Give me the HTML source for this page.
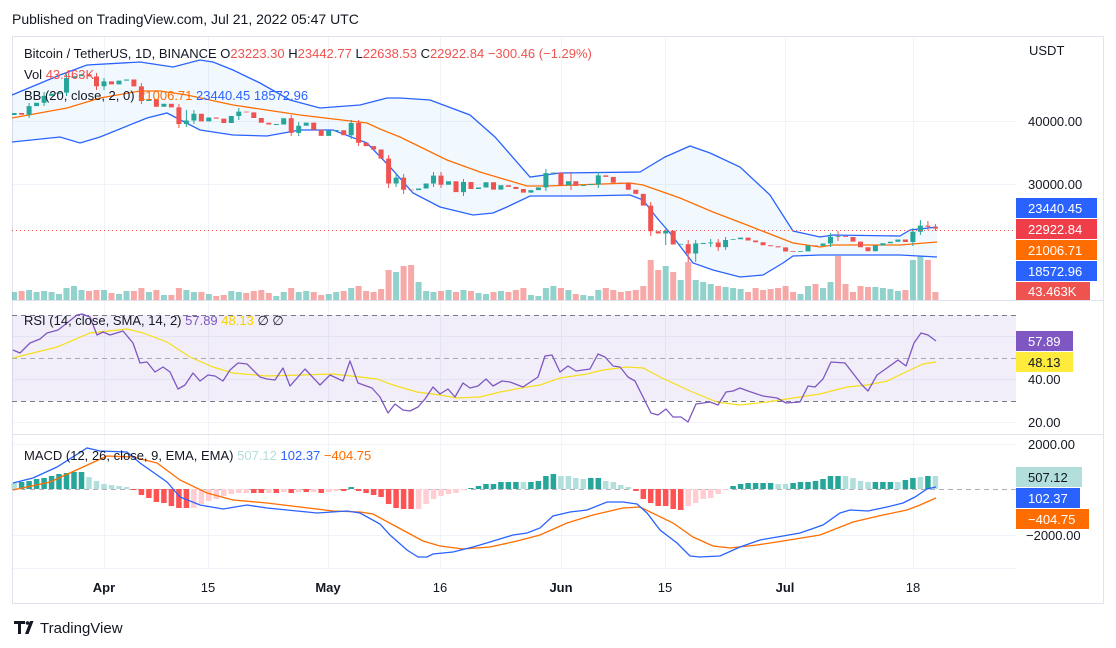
<!DOCTYPE html>
<html><head><meta charset="utf-8"><style>
html,body{margin:0;padding:0;background:#fff;}
svg{display:block;font-family:"Liberation Sans",sans-serif;}
</style></head><body>
<svg width="1116" height="648" viewBox="0 0 1116 648" xmlns="http://www.w3.org/2000/svg">
<rect width="1116" height="648" fill="#fff"/>
<text x="12" y="24" font-size="14" fill="#131722">Published on TradingView.com, Jul 21, 2022 05:47 UTC</text>
<g stroke="#f0f3fa" stroke-width="1">
<path d="M104.5 37V568M208.5 37V568M328.5 37V568M440.5 37V568M561.5 37V568M665.5 37V568M785.5 37V568M913.5 37V568"/>
<path d="M12 121.5H1016M12 184.5H1016M12 336.5H1016M12 379.5H1016M12 422.5H1016M12 444.5H1016M12 535.5H1016M12 568.5H1016"/>
</g>
<rect x="12.5" y="36.5" width="1091" height="567" fill="none" stroke="#e0e3eb"/>
<line x1="12" y1="300.5" x2="1104" y2="300.5" stroke="#e0e3eb"/>
<line x1="12" y1="434.5" x2="1104" y2="434.5" stroke="#e0e3eb"/>
<defs>
<clipPath id="cm"><rect x="12" y="37" width="1004" height="263"/></clipPath>
</defs>
<rect x="12" y="315" width="1004" height="86" fill="#7e57c2" fill-opacity="0.1"/>
<g stroke="#787b86" stroke-dasharray="5,4" stroke-width="1">
<line x1="12" y1="315.5" x2="1016" y2="315.5"/><line x1="12" y1="358.5" x2="1016" y2="358.5" stroke-opacity="0.6"/><line x1="12" y1="401.5" x2="1016" y2="401.5"/>
<line x1="12" y1="489.5" x2="1016" y2="489.5" stroke-opacity="0.6"/>
</g>
<g clip-path="url(#cm)">
<!-- BB fill -->
<path fill="#2196f3" fill-opacity="0.06" d="M12 95L60 75L87 65L140 62L173 67L200 60L213 62L233 70L260 83L290 100L320 108L360 105L387 98L400 98L430 100L470 115L495 137L530 177L560 173L640 172L645 169L665 157L690 146L710 153L740 167L770 195L793 231L820 237L833 235L900 236L910 230L937 227L937 257L900 255L820 255L793 256L783 263L763 275L740 277L713 270L693 263L670 233L657 218L643 200L630 195L580 196L530 196L507 207L493 213L473 215L440 207L413 193L390 167L367 143L333 130L300 130L267 136L233 135L200 130L167 113L147 118L100 137L80 143L60 137L12 142Z"/>
<!-- volume -->
<path stroke="#26a69a" stroke-opacity="0.5" stroke-width="6" fill="none" d="M14.1 300V292M29.1 300V290M36.6 300V292M44.1 300V291M51.6 300V292M59 300V294M66.5 300V288M74 300V286M81.5 300V290M104 300V290M119 300V294M126.5 300V291M148.9 300V292M163.9 300V295M186.4 300V290M193.9 300V292M208.8 300V294M231.3 300V291M238.8 300V292M276.3 300V296M283.7 300V292M298.7 300V292M306.2 300V291M328.7 300V294M336.2 300V292M351.2 300V288M396.1 300V272M418.6 300V282M426.1 300V291M433.5 300V292M448.5 300V290M463.5 300V290M478.5 300V293M486 300V294M500.9 300V291M530.9 300V295M538.4 300V296M545.9 300V288M553.4 300V286M568.4 300V290M583.3 300V295M590.8 300V296M598.3 300V290M665.7 300V266M680.7 300V280M695.7 300V280M703.2 300V282M710.7 300V284M725.6 300V287M733.1 300V288M740.6 300V289M800.5 300V294M808 300V286M823 300V288M830.5 300V282M875.4 300V287M882.9 300V288M890.4 300V289M897.9 300V291M912.9 300V260M920.4 300V256"/>
<path stroke="#ef5350" stroke-opacity="0.5" stroke-width="6" fill="none" d="M21.6 300V291M89 300V291M96.5 300V290M111.5 300V293M133.9 300V291M141.4 300V288M156.4 300V290M171.4 300V295M178.9 300V288M201.4 300V292M216.3 300V296M223.8 300V295M246.3 300V293M253.8 300V291M261.3 300V290M268.8 300V293M291.2 300V288M313.7 300V292M321.2 300V295M343.7 300V291M358.6 300V286M366.1 300V291M373.6 300V292M381.1 300V289M388.6 300V270M403.6 300V266M411.1 300V265M441 300V291M456 300V292M471 300V291M493.5 300V292M508.4 300V292M515.9 300V290M523.4 300V288M560.9 300V288M575.8 300V294M605.8 300V288M613.3 300V290M620.8 300V292M628.3 300V291M635.8 300V290M643.3 300V286M650.7 300V260M658.2 300V270M673.2 300V272M688.2 300V262M718.2 300V286M748.1 300V292M755.6 300V288M763.1 300V290M770.6 300V289M778.1 300V288M785.6 300V286M793.1 300V292M815.5 300V284M838 300V256M845.5 300V284M853 300V292M860.5 300V286M868 300V287M905.4 300V290M927.9 300V260M935.4 300V292"/>
<!-- BB lines -->
<path fill="none" stroke="#2962ff" stroke-width="1.3" d="M12 95L60 75L87 65L140 62L173 67L200 60L213 62L233 70L260 83L290 100L320 108L360 105L387 98L400 98L430 100L470 115L495 137L530 177L560 173L640 172L645 169L665 157L690 146L710 153L740 167L770 195L793 231L820 237L833 235L900 236L910 230L937 227"/>
<path fill="none" stroke="#2962ff" stroke-width="1.3" d="M12 142L60 137L80 143L100 137L147 118L167 113L200 130L233 135L267 136L300 130L333 130L367 143L390 167L413 193L440 207L473 215L493 213L507 207L530 196L580 196L630 195L643 200L657 218L670 233L693 263L713 270L740 277L763 275L783 263L793 256L820 255L900 255L937 257"/>
<path fill="none" stroke="#ff6d00" stroke-width="1.3" d="M12 118L67 108L100 98L140 91L160 91L187 95L233 105L300 115L367 123L380 129L400 137L447 160L480 172L527 186L547 186L630 183L643 185L680 198L713 212L747 225L793 243L820 247L833 245L900 245L937 242"/>
<!-- wicks -->
<path stroke="#26a69a" stroke-width="1" fill="none" d="M29.1 118V103M44.1 106V92M66.5 96V74M104 90V78M186.4 127V110M193.9 124V110M238.8 120V108M298.7 136V122M351.2 139V120M396.1 187V173M433.5 187V172M463.5 196V179M545.9 191V169M598.3 188V172M665.7 245V227M695.7 262V240M710.7 247V239M725.6 250V237M830.5 247V233M912.9 246V228M920.4 235V220"/>
<path stroke="#ef5350" stroke-width="1" fill="none" d="M96.5 73V90M141.4 83V104M178.9 104V128M291.2 115V136M358.6 120V146M388.6 155V188M403.6 174V194M441 172V188M571 172V190M650.7 202V236M688.2 240V262M718.2 239V251M838 231V241M927.9 221V230M935.4 224V231"/>
<!-- bodies -->
<path stroke="#26a69a" stroke-width="5" fill="none" d="M14.1 115V113M29.1 114.7V106.1M36.6 106.1V102.8M44.1 102.8V95.9M51.6 95.9V93.8M59 93.8V92.6M66.5 92.6V78M74 78V76.1M81.5 76.1V74.2M104 86.3V81.4M119 84.4V80.6M126.5 80.6V79.5M148.9 101V99.3M163.9 106.8V103.7M186.4 124V120.5M193.9 120.5V113.8M208.8 121.4V117.5M231.3 123V116M238.8 116V111.6M276.3 125V124M283.7 124.5V118.3M298.7 132.9V125.8M306.2 125.8V122.6M328.7 135.9V130.6M336.2 131V130M351.2 135.3V123M396.1 183.5V177.6M418.6 190.1V188.5M426.1 188.5V183.5M433.5 183.5V175.6M448.5 184.8V181.2M463.5 192.1V182M478.5 189V187.5M486 187.5V182.2M500.9 189.6V185.2M530.9 192.6V190.1M538.4 190.1V187.4M545.9 187.4V173.1M553.4 173.3V172.5M568.4 185.3V181.2M583.3 185.9V184.9M590.8 185V184M598.3 184.5V175.4M665.7 233.5V230.7M680.7 244.6V243.9M695.7 253.5V243.4M703.2 244V243M710.7 243.4V242.5M725.6 247.1V240M733.1 240V239.2M740.6 239.2V237.6M800.5 252V251.2M808 251.4V245.5M823 245.9V243.5M830.5 243.5V236.7M838 236.7V236M875.4 251.2V245.5M882.9 245.5V243.3M890.4 243.3V241.8M897.9 241.8V239.5M912.9 242V231.7M920.4 231.7V225.6"/>
<path stroke="#ef5350" stroke-width="5" fill="none" d="M21.6 113V114.7M89 74.2V76.5M96.5 76.5V86.3M111.5 81.4V84.4M133.9 79.5V86.4M141.4 86.4V101M156.4 99.3V106.8M171.4 103.7V107.4M178.9 107.4V124M201.4 113.8V121.4M216.3 117.5V118.6M223.8 118.6V123M246.3 111.6V112.4M253.8 112.4V118M261.3 118V122.8M268.8 122.8V124.5M291.2 118.3V132.9M313.7 122.6V129.8M321.2 129.8V135.9M343.7 130.3V135.3M358.6 123V142.7M366.1 142.7V146.1M373.6 146.1V149.5M381.1 149.5V158.6M388.6 158.6V183.5M403.6 177.6V189.7M411.1 189.6V190.2M441 175.6V184.8M456 181.2V192.1M471 182V189M493.5 182.2V189.6M508.4 185.2V186.9M515.9 186.9V189M523.4 189V192.6M560.9 172.7V185.3M575.8 181.2V185.9M605.8 175.4V176.9M613.3 176.9V182.7M620.8 182.7V183.3M628.3 183.3V189.7M635.8 189.7V193.9M643.3 193.9V205.6M650.7 205.6V231.3M658.2 231.3V233.5M673.2 230.7V244.5M688.2 244.1V253.5M718.2 242.5V247.1M748.1 237.6V240.5M755.6 240.5V242.3M763.1 242.3V245.2M770.6 245.2V246.2M778.1 246.2V247.4M785.6 247.4V251.5M793.1 251.3V252M815.5 245.4V246M845.5 236.1V237M853 237V241.6M860.5 241.6V247.2M868 247.2V251.2M905.4 239.5V242M927.9 225.6V226.7M935.4 226.7V228.6"/>
</g>
<line x1="12" y1="230.5" x2="1016" y2="230.5" stroke="#ef5350" stroke-dasharray="1,3"/>
<!-- RSI -->
<path fill="none" stroke="#f5de1a" stroke-width="1.2" d="M13 358L33 353L57 347L90 333L127 329L143 333L167 342L190 357L213 367L233 373L267 376L333 374L360 377L377 379L393 385L417 392L440 395L457 398L480 397L500 392L527 387L540 385L560 378L587 374L603 370L627 367L643 368L660 377L690 391L717 402L740 405L767 402L793 398L820 394L847 387L867 385L887 381L910 370L923 364L936 362"/>
<path fill="none" stroke="#7e57c2" stroke-width="1.3" stroke-linejoin="round" d="M13 350L20 353L30 343L40 339L47 333L58 330L67 323L77 315L82 314L90 317L97 335L103 332L110 335L123 331L133 343L140 363L147 362L155 372L163 367L170 372L178 389L185 385L193 373L200 381L208 375L215 376L223 381L230 370L238 363L247 364L260 377L267 379L275 380L283 368L290 386L305 369L320 385L330 375L343 381L350 361L358 383L372 388L380 397L388 413L395 404L403 410L410 411L418 407L425 399L433 387L440 394L448 389L455 397L463 383L470 388L478 386L486 379L493 386L502 381L510 382L523 387L538 377L545 356L552 355L560 372L568 366L576 371L590 369L598 354L605 357L613 366L620 367L628 377L635 381L643 397L651 413L658 415L666 409L673 417L681 417L688 422L696 404L703 403L710 402L718 405L726 392L733 391L740 388L748 391L763 396L777 398L786 403L800 402L808 386L815 387L823 379L831 362L845 363L862 385L868 391L877 375L887 368L898 360L906 366L914 343L921 333L928 335L936 341"/>
<!-- MACD histogram -->
<path stroke="#26a69a" stroke-width="5.5" fill="none" d="M21.6 489V482M29.1 489V481M36.6 489V479M44.1 489V478M51.6 489V476M59 489V474M66.5 489V473M74 489V472M81.5 489V472M351.2 489V487M471 489V488M478.5 489V486M486 489V484M493.5 489V484M500.9 489V482M508.4 489V482M515.9 489V482M530.9 489V482M538.4 489V481M545.9 489V476M553.4 489V474M590.8 489V478M598.3 489V478M733.1 489V486M740.6 489V484M748.1 489V483M755.6 489V483M763.1 489V483M770.6 489V483M793.1 489V483M800.5 489V482M808 489V482M815.5 489V481M823 489V479M830.5 489V476M838 489V476M875.4 489V482M882.9 489V482M890.4 489V482M905.4 489V480M912.9 489V478M927.9 489V476"/>
<path stroke="#b2dfdb" stroke-width="5.5" fill="none" d="M14.1 489V483M89 489V477M96.5 489V481M104 489V484M111.5 489V485M119 489V486M126.5 489V487M523.4 489V482M560.9 489V476M568.4 489V476M575.8 489V478M583.3 489V479M605.8 489V481M613.3 489V482M620.8 489V485M628.3 489V487M778.1 489V484M785.6 489V484M845.5 489V476M853 489V478M860.5 489V481M868 489V482M897.9 489V482M920.4 489V477M935.4 489V476"/>
<path stroke="#ff5252" stroke-width="5.5" fill="none" d="M133.9 489V490M141.4 489V495M148.9 489V498M156.4 489V502M163.9 489V503M171.4 489V506M178.9 489V508M186.4 489V508M253.8 489V493M261.3 489V493M276.3 489V493M291.2 489V493M306.2 489V492M321.2 489V493M343.7 489V491M358.6 489V491M366.1 489V493M373.6 489V495M381.1 489V497M388.6 489V504M396.1 489V508M403.6 489V509M411.1 489V509M636 489V491M643.3 489V499M650.7 489V503M658.2 489V506M665.7 489V506M673.2 489V509M680.7 489V510"/>
<path stroke="#ffcdd2" stroke-width="5.5" fill="none" d="M193.9 489V508M201.4 489V504M208.8 489V501M216.3 489V499M223.8 489V496M231.3 489V494M238.8 489V493M246.3 489V493M268.8 489V493M283.7 489V492M298.7 489V492M313.7 489V492M328.7 489V492M336.2 489V491M418.6 489V509M426.1 489V504M433.5 489V499M441 489V496M448.5 489V494M456 489V493M463.5 489V490M688.2 489V506M695.7 489V503M703.2 489V499M710.7 489V498M718.2 489V494M725.6 489V490"/>
<path fill="none" stroke="#ff6d00" stroke-width="1.3" d="M13 490L50 482L83 467L107 456L133 457L157 463L180 480L207 493L233 500L267 503L300 507L333 511L360 512L373 514L397 527L423 541L440 546L463 549L490 547L517 541L540 535L567 523L593 515L623 508L640 507L673 523L693 537L713 546L730 548L757 545L783 541L820 535L853 522L883 515L907 510L920 505L936 498"/>
<path fill="none" stroke="#2962ff" stroke-width="1.3" d="M13 483L33 478L57 467L87 448L100 451L127 452L140 463L167 482L180 497L200 505L223 509L247 505L267 508L287 510L317 513L347 511L360 513L380 524L390 535L407 550L418 557L427 557L433 554L453 552L473 547L490 542L513 535L527 533L540 528L553 516L570 512L587 510L607 502L623 502L637 504L647 513L660 530L677 543L690 556L700 557L720 556L740 547L760 540L783 536L800 533L823 525L840 513L850 510L868 511L887 507L903 503L915 497L927 489L936 487"/>
<g font-size="13" fill="#131722">
<text x="24" y="58">Bitcoin / TetherUS, 1D, BINANCE  <tspan>O</tspan><tspan fill="#ef5350">23223.30</tspan>  H<tspan fill="#ef5350">23442.77</tspan>  L<tspan fill="#ef5350">22638.53</tspan>  C<tspan fill="#ef5350">22922.84</tspan>  <tspan fill="#ef5350">−300.46 (−1.29%)</tspan></text>
<text x="24" y="79">Vol  <tspan fill="#ef5350">43.463K</tspan></text>
<text x="24" y="100">BB (20, close, 2, 0)  <tspan fill="#ff6d00">21006.71</tspan>  <tspan fill="#2962ff">23440.45</tspan>  <tspan fill="#2962ff">18572.96</tspan></text>
<text x="24" y="325">RSI (14, close, SMA, 14, 2)  <tspan fill="#7e57c2">57.89</tspan>  <tspan fill="#f5d300">48.13</tspan>  ∅  ∅</text>
<text x="24" y="460">MACD (12, 26, close, 9, EMA, EMA)  <tspan fill="#b2dfdb">507.12</tspan>  <tspan fill="#2962ff">102.37</tspan>  <tspan fill="#ff6d00">−404.75</tspan></text>
</g>
<g font-size="13" fill="#131722">
<text x="1029" y="55">USDT</text>
<text x="1028" y="126">40000.00</text>
<text x="1028" y="189">30000.00</text>
<text x="1028" y="384">40.00</text>
<text x="1028" y="427">20.00</text>
<text x="1028" y="449">2000.00</text>
<text x="1026" y="540">−2000.00</text>
</g>
<g font-size="13" fill="#fff">
<rect x="1016" y="198" width="81" height="20" fill="#2962ff"/><text x="1028" y="213">23440.45</text>
<rect x="1016" y="219" width="81" height="20" fill="#ef3e4a"/><text x="1028" y="234">22922.84</text>
<rect x="1016" y="240" width="81" height="20" fill="#ff6d00"/><text x="1028" y="255">21006.71</text>
<rect x="1016" y="261" width="81" height="20" fill="#2962ff"/><text x="1028" y="276">18572.96</text>
<rect x="1016" y="282" width="74" height="18" fill="#ef5350"/><text x="1028" y="296">43.463K</text>
<rect x="1016" y="331" width="57" height="20" fill="#7e57c2"/><text x="1028" y="346">57.89</text>
<rect x="1016" y="352" width="57" height="20" fill="#ffeb3b"/><text x="1028" y="367" fill="#131722">48.13</text>
<rect x="1016" y="467" width="66" height="20" fill="#b2dfdb"/><text x="1028" y="482" fill="#131722">507.12</text>
<rect x="1016" y="488" width="64" height="20" fill="#2962ff"/><text x="1028" y="503">102.37</text>
<rect x="1016" y="509" width="73" height="20" fill="#ff6d00"/><text x="1028" y="524">−404.75</text>
</g>
<g font-size="13" fill="#131722" text-anchor="middle">
<text x="104" y="592" font-weight="bold">Apr</text>
<text x="208" y="592">15</text>
<text x="328" y="592" font-weight="bold">May</text>
<text x="440" y="592">16</text>
<text x="561" y="592" font-weight="bold">Jun</text>
<text x="665" y="592">15</text>
<text x="785" y="592" font-weight="bold">Jul</text>
<text x="913" y="592">18</text>
</g>
<g fill="#131722">
<path d="M14 621h11v3h-4v10h-3v-10h-4z"/>
<path d="M25 634l5-13h3.5l-5 13z"/>
<circle cx="27.5" cy="623" r="1.8"/>
<text x="40" y="633" font-size="15">TradingView</text>
</g>
</svg>
</body></html>
